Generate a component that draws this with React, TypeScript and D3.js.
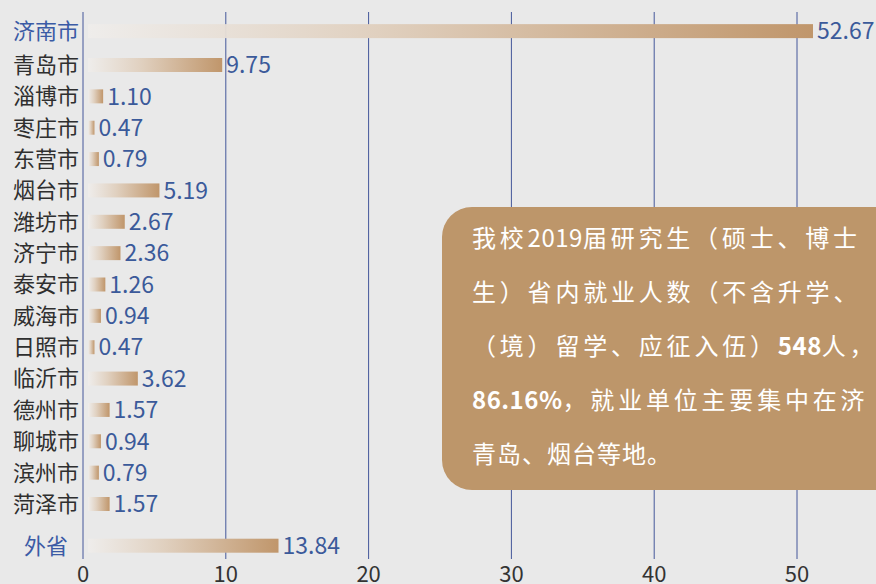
import { useEffect, useRef } from 'react';
import * as d3 from 'd3';

const cities = ['济南市', '青岛市', '淄博市', '枣庄市', '东营市', '烟台市', '潍坊市', '济宁市', '泰安市', '威海市', '日照市', '临沂市', '德州市', '聊城市', '滨州市', '菏泽市', '外省'];
const values = [52.67, 9.75, 1.1, 0.47, 0.79, 5.19, 2.67, 2.36, 1.26, 0.94, 0.47, 3.62, 1.57, 0.94, 0.79, 1.57, 13.84];
const highlighted = ['济南市', '外省'];
const ticks = [0, 10, 20, 30, 40, 50];

// latin parts of the note are set tight, chinese parts are spread (justified look)
const noteLines: { text: string; bold?: boolean; latin?: boolean }[][] = [
  [{ text: '我校' }, { text: '2019', latin: true }, { text: '届研究生（硕士、博士' }],
  [{ text: '生）省内就业人数（不含升学、' }],
  [{ text: '（境）留学、应征入伍）' }, { text: '548', bold: true, latin: true }, { text: '人，' }],
  [{ text: '86.16%', bold: true, latin: true }, { text: '，就业单位主要集中在济' }],
  [{ text: '青岛、烟台等地。' }],
];

const W = 876;
const H = 584;
const FONT = '"Noto Sans CJK SC", "Noto Sans", sans-serif';

export default function App() {
  const ref = useRef<SVGSVGElement>(null);

  useEffect(() => {
    if (!ref.current) return;
    const svg = d3.select(ref.current);
    svg.selectAll('*').remove();

    svg.append('rect').attr('width', W).attr('height', H).attr('fill', '#e9e9e9');

    const x = d3.scaleLinear().domain([0, 50]).range([83, 797]);
    const xBar = d3.scaleLinear().domain([0, 52.67]).range([88, 813]);
    const y = d3.scaleLinear().domain([1, 15]).range([65, 504]);
    // 济南 row a bit higher, 外省 set apart below the city rows
    const rowY = (i: number) => (i === 0 ? y(-0.08) : cities[i] === '外省' ? y(16.33) : y(i));

    const defs = svg.append('defs');
    const grad = defs.append('linearGradient').attr('id', 'barGrad').attr('x1', '0%').attr('x2', '100%');
    grad.append('stop').attr('offset', '0%').attr('stop-color', '#efedeb').attr('stop-opacity', 0.9);
    grad.append('stop').attr('offset', '40%').attr('stop-color', '#e0d0bf');
    grad.append('stop').attr('offset', '100%').attr('stop-color', '#c0966b');

    // grid
    svg.append('g')
      .selectAll('line')
      .data(ticks)
      .join('line')
      .attr('x1', (d) => x(d))
      .attr('x2', (d) => x(d))
      .attr('y1', 12)
      .attr('y2', 559)
      .attr('stroke', '#44579a')
      .attr('stroke-width', 1);

    svg.append('g')
      .selectAll('text')
      .data(ticks)
      .join('text')
      .attr('x', (d) => x(d))
      .attr('y', 582)
      .attr('text-anchor', 'middle')
      .attr('font-family', FONT)
      .attr('font-size', 22)
      .attr('fill', '#333')
      .text((d) => d);

    const rows = svg.append('g').selectAll('g').data(cities).join('g');

    rows.append('rect')
      .attr('x', xBar(0))
      .attr('y', (_, i) => rowY(i) - 7)
      .attr('width', (_, i) => Math.max(2, xBar(values[i]) - xBar(0)))
      .attr('height', 14)
      .attr('fill', 'url(#barGrad)');

    rows.append('text')
      .attr('x', 46)
      .attr('y', (_, i) => rowY(i))
      .attr('dy', '0.36em')
      .attr('text-anchor', 'middle')
      .attr('font-family', FONT)
      .attr('font-size', 22)
      .attr('fill', (d) => (highlighted.includes(d) ? '#3b5ba5' : '#2f2f2f'))
      .text((d) => d);

    rows.append('text')
      .attr('x', (_, i) => Math.max(xBar(0) + 2, xBar(values[i])) + 4)
      .attr('y', (_, i) => rowY(i))
      .attr('dy', '0.36em')
      .attr('font-family', FONT)
      .attr('font-size', 23)
      .attr('fill', '#3b5a9a')
      .text((_, i) => values[i].toFixed(2));

    // note box
    svg.append('rect')
      .attr('x', 442)
      .attr('y', 207)
      .attr('width', 480)
      .attr('height', 283)
      .attr('rx', 30)
      .attr('fill', '#bd966a');

    const note = svg.append('g').attr('font-family', FONT).attr('font-size', 24).attr('fill', '#fff');
    noteLines.forEach((parts, i) => {
      const t = note.append('text')
        .attr('x', 472)
        .attr('y', 238 + i * 54)
        .attr('dy', '0.36em');
      parts.forEach((p) => {
        t.append('tspan')
          .attr('font-weight', p.bold ? 700 : 400)
          .attr('letter-spacing', p.latin ? 0.5 : i < 4 ? 3.8 : 1)
          .text(p.text);
      });
    });
  }, []);

  return (
    <div style={{ position: 'fixed', left: 0, top: 0 }}>
      <svg ref={ref} width={W} height={H} style={{ display: 'block' }} />
    </div>
  );
}
